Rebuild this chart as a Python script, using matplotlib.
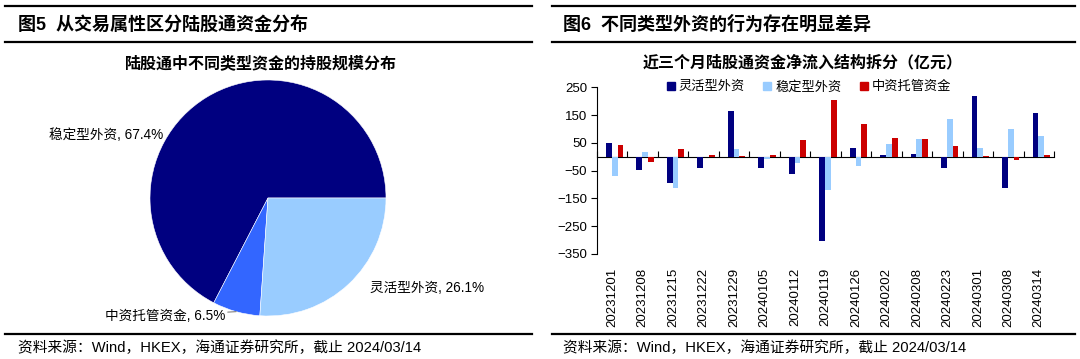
import matplotlib
matplotlib.use('Agg')
import matplotlib.pyplot as plt
from matplotlib.lines import Line2D
from matplotlib.patches import Patch
import numpy as np

plt.rcParams['font.family'] = ['Liberation Sans', 'Noto Sans CJK SC']

# ---- data -------------------------------------------------------------
pie_labels = ['稳定型外资', '中资托管资金', '灵活型外资']
pie_values = [67.4, 6.5, 26.1]
pie_colors = ['#000080', '#3366FF', '#99CCFF']

dates = ['20231201', '20231208', '20231215', '20231222', '20231229',
         '20240105', '20240112', '20240119', '20240126', '20240202',
         '20240208', '20240223', '20240301', '20240308', '20240314']
flexible = [48, -49, -96, -40, 163, -42, -62, -303, 33, 5, 10, -40, 218, -113, 158]
stable = [-70, 17, -114, -1, 27, -8, -23, -121, -32, 45, 64, 137, 30, 100, 73]
china = [43, -18, 27, 7, 1, 6, 60, 206, 117, 68, 65, 39, 2, -11, 8]
series_names = ['灵活型外资', '稳定型外资', '中资托管资金']
series_colors = ['#000080', '#99CCFF', '#CC0000']
yticks = [250, 150, 50, -50, -150, -250, -350]

W, H = 1080, 359
fig = plt.figure(figsize=(W / 100, H / 100), dpi=100)


def fx(px):
    return px / W


def fy(py):
    return 1 - py / H


# frame lines and headings
for x0, x1 in [(5, 532), (552, 1075)]:
    for y in [6, 42, 334]:
        fig.add_artist(Line2D([fx(x0), fx(x1)], [fy(y), fy(y)], color='black', lw=1.6))

fig.text(fx(18), fy(25), '图5  从交易属性区分陆股通资金分布', fontsize=13, fontweight='bold', va='center')
fig.text(fx(563), fy(25), '图6  不同类型外资的行为存在明显差异', fontsize=13, fontweight='bold', va='center')
src = '资料来源：Wind，HKEX，海通证券研究所，截止 2024/03/14'
fig.text(fx(18), fy(348), src, fontsize=10.6, va='center')
fig.text(fx(563), fy(348), src, fontsize=10.6, va='center')

# ---- left: pie ----------------------------------------------------------
fig.text(fx(261), fy(63), '陆股通中不同类型资金的持股规模分布', fontsize=11.5, fontweight='bold',
         ha='center', va='center')
cx, cy, r = 268, 198, 118
ax1 = fig.add_axes([fx(cx - r), fy(cy + r), 2 * r / W, 2 * r / H])
wedges, _ = ax1.pie(pie_values, colors=pie_colors, startangle=0, counterclock=True,
                    wedgeprops=dict(linewidth=0.4, edgecolor='white'))
ax1.set_xlim(-1, 1)
ax1.set_ylim(-1, 1)
ax1.set_aspect('auto')

lab = ['%s, %.1f%%' % (n, v) for n, v in zip(pie_labels, pie_values)]
fig.text(fx(163), fy(135), lab[0], fontsize=9.8, ha='right', va='center')
fig.text(fx(370), fy(288), lab[2], fontsize=9.8, ha='left', va='center')
w = wedges[1]
mid = np.deg2rad((w.theta1 + w.theta2) / 2)
ax1.annotate(lab[1], xy=(np.cos(mid), np.sin(mid)), xycoords='data',
             xytext=(fx(225), fy(316)), textcoords='figure fraction',
             fontsize=9.8, ha='right', va='center',
             arrowprops=dict(arrowstyle='-', color='#808080', lw=0.8,
                             shrinkA=0, shrinkB=0))

# ---- right: bars --------------------------------------------------------
fig.text(fx(803), fy(63), '近三个月陆股通资金净流入结构拆分（亿元）', fontsize=11.5,
         fontweight='bold', ha='center', va='center')
ax2 = fig.add_axes([fx(597), fy(254), fx(1054) - fx(597), (254 - 87.3) / H])
x = np.arange(len(dates))
bw = 0.19
for k, (vals, c) in enumerate(zip([flexible, stable, china], series_colors)):
    ax2.bar(x + (k - 1) * bw + 0.08, vals, width=bw, color=c, linewidth=0)

ax2.set_xlim(-0.5, len(dates) - 0.5)
ax2.set_ylim(-350, 250)
ax2.set_yticks(yticks)
ax2.tick_params(axis='y', direction='out', length=4, width=0.8, labelsize=9.5, pad=3)
ax2.set_xticks(x)
ax2.set_xticklabels(dates, rotation=90, fontsize=9.5)
ax2.tick_params(axis='x', length=0, pad=10)
for s in ['top', 'right', 'bottom']:
    ax2.spines[s].set_visible(False)
ax2.spines['left'].set_linewidth(0.8)

zero_ax = ax2.secondary_xaxis(350 / 600)
zero_ax.set_xticks(np.arange(len(dates) + 1) - 0.5)
zero_ax.set_xticklabels([])
zero_ax.tick_params(direction='out', length=4, width=0.8)
zero_ax.spines['bottom'].set_linewidth(0.8)

handles = [Patch(color=c) for c in series_colors]
fig.legend(handles, series_names, loc='center', bbox_to_anchor=(fx(809), fy(87)),
           ncol=3, frameon=False, fontsize=9.5, handlelength=0.6, handleheight=0.6,
           handletextpad=0.3, columnspacing=1.4)

fig.savefig('out.png', dpi=100)
